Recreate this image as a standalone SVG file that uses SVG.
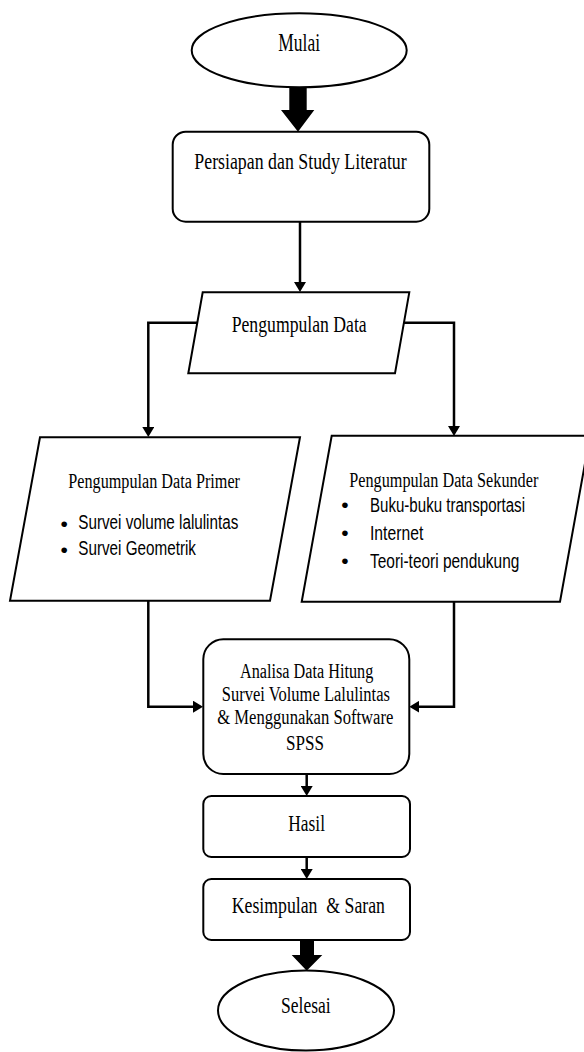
<svg xmlns="http://www.w3.org/2000/svg" width="584" height="1052" viewBox="0 0 584 1052">
<style>
  .shape { fill: #ffffff; stroke: #000000; stroke-width: 2; }
  .conn { fill: none; stroke: #000000; stroke-width: 2.5; }
  .ser { font-family: "Liberation Serif", "Times New Roman", serif; fill: #000000; }
  .san { font-family: "Liberation Sans", Arial, sans-serif; fill: #000000; }
  .dot { font-family: "Liberation Sans", Arial, sans-serif; fill: #000000; font-size: 21px; }
  .thick { fill: #000000; stroke: none; }
</style>
<defs>
  <marker id="arr" viewBox="0 0 10 12" markerWidth="10" markerHeight="12" refX="7" refY="6" orient="auto" markerUnits="userSpaceOnUse">
    <path d="M0,0 L10,6 L0,12 z" fill="#000000"/>
  </marker>
</defs>
<rect width="584" height="1052" fill="#ffffff"/>

<g id="connectors">
  <path class="thick" d="M289.3,86 H306.7 V110 H314.3 L298,131.7 L281,110 H289.3 Z"/>
  <path class="conn" d="M300,222 V289" marker-end="url(#arr)"/>
  <path class="conn" d="M197.3,322.7 H148.3 V434" marker-end="url(#arr)"/>
  <path class="conn" d="M403.9,322.7 H454 V433" marker-end="url(#arr)"/>
  <path class="conn" d="M148.3,600.7 V706.7 H200" marker-end="url(#arr)"/>
  <path class="conn" d="M454,601.7 V706.7 H412.3" marker-end="url(#arr)"/>
  <path class="conn" d="M306.7,774 V793" marker-end="url(#arr)"/>
  <path class="conn" d="M306.7,857 V876" marker-end="url(#arr)"/>
  <path class="thick" d="M300,939 H314 V955 H322.3 L306.7,970.7 L291.7,955 H300 Z"/>
</g>

<g id="mulai">
  <ellipse class="shape" cx="299.2" cy="50.3" rx="107.5" ry="37"/>
  <text class="ser" x="278.3" y="51" font-size="24.5" textLength="41.7" lengthAdjust="spacingAndGlyphs">Mulai</text>
</g>

<g id="persiapan">
  <rect class="shape" x="172.7" y="131.7" width="256.6" height="90" rx="13" ry="13"/>
  <text class="ser" x="194.3" y="168.5" font-size="24" textLength="212.4" lengthAdjust="spacingAndGlyphs">Persiapan dan Study Literatur</text>
</g>

<g id="pengumpulan">
  <polygon class="shape" points="202.7,292.3 409.3,292.3 395,373.3 188.3,373.3"/>
  <text class="ser" x="231.7" y="331.7" font-size="24" textLength="135" lengthAdjust="spacingAndGlyphs">Pengumpulan Data</text>
</g>

<g id="primer">
  <polygon class="shape" points="40,437.3 300,437.3 270,600.7 10,600.7"/>
  <text class="ser" x="68.3" y="488.3" font-size="20.5" textLength="171.7" lengthAdjust="spacingAndGlyphs">Pengumpulan Data Primer</text>
  <text class="dot" x="60.5" y="531">•</text>
  <text class="san" x="78.3" y="529" font-size="19.5" textLength="160" lengthAdjust="spacingAndGlyphs">Survei volume lalulintas</text>
  <text class="dot" x="60.5" y="557">•</text>
  <text class="san" x="78.3" y="555" font-size="19.5" textLength="117.7" lengthAdjust="spacingAndGlyphs">Survei Geometrik</text>
</g>

<g id="sekunder">
  <polygon class="shape" points="331.7,435.7 590,435.7 560,601.7 301.7,601.7"/>
  <text class="ser" x="349.3" y="486.7" font-size="20.5" textLength="189" lengthAdjust="spacingAndGlyphs">Pengumpulan Data Sekunder</text>
  <text class="dot" x="341.3" y="512">•</text>
  <text class="san" x="370" y="511.7" font-size="19.5" textLength="155" lengthAdjust="spacingAndGlyphs">Buku-buku transportasi</text>
  <text class="dot" x="341.3" y="540">•</text>
  <text class="san" x="370" y="540" font-size="19.5" textLength="53.3" lengthAdjust="spacingAndGlyphs">Internet</text>
  <text class="dot" x="341.3" y="567.7">•</text>
  <text class="san" x="370" y="567.7" font-size="19.5" textLength="149.3" lengthAdjust="spacingAndGlyphs">Teori-teori pendukung</text>
</g>

<g id="analisa">
  <rect class="shape" x="203.3" y="639.3" width="206" height="134.7" rx="20" ry="20"/>
  <text class="ser" x="240" y="678" font-size="20.5" textLength="133.3" lengthAdjust="spacingAndGlyphs">Analisa Data Hitung</text>
  <text class="ser" x="221.7" y="701" font-size="20.5" textLength="168.3" lengthAdjust="spacingAndGlyphs">Survei Volume Lalulintas</text>
  <text class="ser" x="217.3" y="723.5" font-size="20.5" textLength="176" lengthAdjust="spacingAndGlyphs">&amp; Menggunakan Software</text>
  <text class="ser" x="286" y="750" font-size="20.5" textLength="38" lengthAdjust="spacingAndGlyphs">SPSS</text>
</g>

<g id="hasil">
  <rect class="shape" x="203.3" y="796" width="206.7" height="61" rx="8" ry="8"/>
  <text class="ser" x="288.3" y="831" font-size="24" textLength="36.7" lengthAdjust="spacingAndGlyphs">Hasil</text>
</g>

<g id="kesimpulan">
  <rect class="shape" x="203.3" y="879" width="206.7" height="61" rx="8" ry="8"/>
  <text class="ser" x="231.7" y="913.3" font-size="24" textLength="153.3" lengthAdjust="spacingAndGlyphs" style="white-space:pre" xml:space="preserve">Kesimpulan  &amp; Saran</text>
</g>

<g id="selesai">
  <ellipse class="shape" cx="306" cy="1010.5" rx="88" ry="40"/>
  <text class="ser" x="281" y="1013" font-size="24" textLength="49.7" lengthAdjust="spacingAndGlyphs">Selesai</text>
</g>
</svg>
